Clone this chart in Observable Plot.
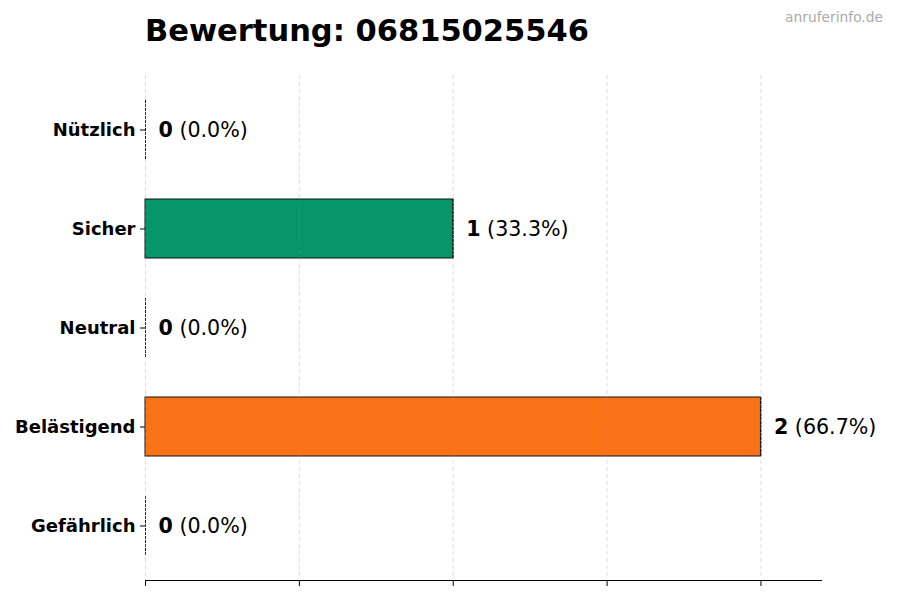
<!DOCTYPE html>
<html>
<head>
<meta charset="utf-8">
<script src="https://cdn.jsdelivr.net/npm/d3@7"></script>
<script src="https://cdn.jsdelivr.net/npm/@observablehq/plot@0.6"></script>
<style>
  html, body { margin: 0; padding: 0; background: #fff; }
  #chart { position: relative; width: 900px; height: 600px; }
  svg { font-family: "DejaVu Sans", sans-serif; }
</style>
</head>
<body>
<div id="chart"></div>
<script>
const titleText = "Bewertung: 06815025546";
const watermark = "anruferinfo.de";
const categories = ["Nützlich", "Sicher", "Neutral", "Belästigend", "Gefährlich"];
const counts = [0, 1, 0, 2, 0];
const percents = [0.0, 33.3, 0.0, 66.7, 0.0];
const colors = ["#2563eb", "#059669", "#6b7280", "#f97316", "#dc2626"];
const xTicks = [0, 0.5, 1, 1.5, 2];

const data = categories.map((c, i) => ({
  cat: c, n: counts[i], pct: percents[i], color: colors[i]
}));

const plot = Plot.plot({
  width: 900,
  height: 600,
  marginTop: 75,
  marginBottom: 20,
  marginLeft: 145,
  marginRight: 78,
  style: { fontFamily: "DejaVu Sans, sans-serif", background: "#fff" },
  x: { domain: [0, 2.2], ticks: xTicks, tickFormat: () => "", label: null, tickSize: 6 },
  y: { domain: categories, paddingInner: 0.4, paddingOuter: 0.23, label: null, tickSize: 5 },
  marks: [
    Plot.barX(data, { y: "cat", x: "n", fill: "color", stroke: "#111", strokeWidth: 1 }),
    Plot.tickX(data, { y: "cat", x: "n", stroke: "#111", strokeWidth: 1, strokeDasharray: "3,1" }),
    Plot.gridX(xTicks, { stroke: "#999", strokeOpacity: 0.4, strokeDasharray: "4,3", strokeWidth: 0.8 }),
    Plot.axisX({ ticks: xTicks, tickFormat: () => "", tickSize: 6, stroke: "#000", strokeOpacity: 1, label: null }),
    Plot.axisY({ tickSize: 5, tickPadding: 5, fontSize: 18, fontWeight: "bold", fill: "#000", label: null, stroke: "#000", strokeOpacity: 1 }),
    Plot.text(data, {
      y: "cat", x: "n", dx: 13, textAnchor: "start",
      text: d => d.n + "|" + "(" + d.pct.toFixed(1) + "%)",
      fontSize: 20.6, fill: "#000", className: "vlabel"
    })
  ]
});

document.getElementById("chart").appendChild(plot);
const svg = d3.select(plot);

// bottom axis baseline
svg.append("line")
  .attr("x1", 145).attr("x2", 900 - 78)
  .attr("y1", 580.5).attr("y2", 580.5)
  .attr("stroke", "#000").attr("stroke-width", 1);

// mixed-weight value labels
svg.selectAll(".vlabel text").each(function() {
  const t = d3.select(this);
  const [num, rest] = t.text().split("|");
  t.text(null);
  t.append("tspan").attr("font-weight", "bold").text(num);
  t.append("tspan").text(" " + rest);
});

// title
svg.append("text")
  .attr("x", 145).attr("y", 41).attr("text-anchor", "start")
  .attr("font-size", 30.5).attr("font-weight", "bold").attr("fill", "#000")
  .text(titleText);

// watermark
svg.append("text")
  .attr("x", 883).attr("y", 22).attr("text-anchor", "end")
  .attr("font-size", 13.8).attr("fill", "#aaa")
  .text(watermark);
</script>
</body>
</html>
